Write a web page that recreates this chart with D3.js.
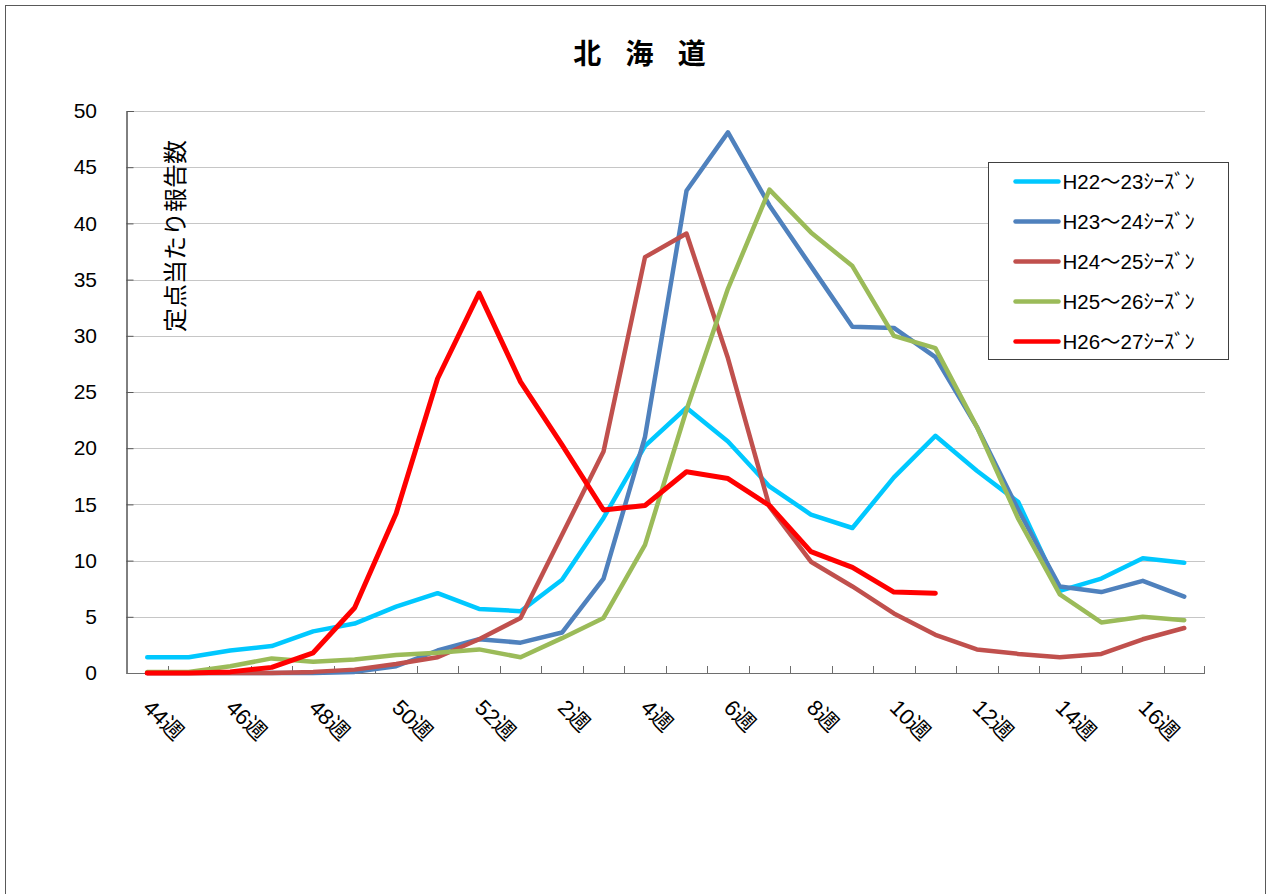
<!DOCTYPE html>
<html>
<head>
<meta charset="utf-8">
<script src="https://cdn.jsdelivr.net/npm/d3@7"></script>
<style>
  html, body { margin: 0; padding: 0; background: #fff; }
  svg { display: block; font-family: "Liberation Sans", Arial, "Noto Sans CJK JP", sans-serif; }
  .line { fill: none; stroke-linejoin: round; stroke-linecap: round; }
</style>
</head>
<body>
<svg id="chart" width="1267" height="894"></svg>
<script>
// week categories (44週 .. 52週, 1週 .. 17週)
const weeks = ["44週","45週","46週","47週","48週","49週","50週","51週","52週",
  "1週","2週","3週","4週","5週","6週","7週","8週","9週","10週",
  "11週","12週","13週","14週","15週","16週","17週"];

const seasonNames = ["H22～23ｼｰｽﾞﾝ", "H23～24ｼｰｽﾞﾝ", "H24～25ｼｰｽﾞﾝ", "H25～26ｼｰｽﾞﾝ", "H26～27ｼｰｽﾞﾝ"];

const h22 = [1.4,1.4,2.0,2.4,3.7,4.4,5.9,7.1,5.7,5.5,8.3,13.8,20.2,23.6,20.6,16.6,14.1,12.9,17.4,21.1,18.0,15.2,7.3,8.4,10.2,9.8];
const h23 = [0,0,0,0,0,0.1,0.6,2.0,3.0,2.7,3.6,8.4,21.0,42.9,48.1,41.6,36.2,30.8,30.7,28.1,21.9,14.5,7.7,7.2,8.2,6.8];
const h24 = [0,0,0,0,0.1,0.3,0.8,1.4,3.0,4.9,12.3,19.7,37.0,39.1,28.0,14.8,9.9,7.7,5.3,3.4,2.1,1.7,1.4,1.7,3.0,4.0];
const h25 = [0.1,0.1,0.6,1.3,1.0,1.2,1.6,1.8,2.1,1.4,3.1,4.9,11.4,23.4,34.2,43.0,39.2,36.2,30.0,28.9,21.9,13.7,7.0,4.5,5.0,4.7];
const h26 = [0,0,0.1,0.5,1.8,5.8,14.2,26.2,33.8,25.9,20.3,14.5,14.9,17.9,17.3,14.9,10.8,9.4,7.2,7.1];

const yTicks = [0,5,10,15,20,25,30,35,40,45,50];

const colors = ["#00C8FF", "#4F81BD", "#C0504D", "#9BBB59", "#FF0000"];

drawChart();

function drawChart() {
    const svg = d3.select("#chart");
    const plot = { left: 126.5, right: 1205, top: 111, bottom: 673 };

    // outer frame
    svg.append("rect")
        .attr("x", 5.5).attr("y", 5.5)
        .attr("width", 1260).attr("height", 900)
        .attr("fill", "#fff")
        .attr("stroke", "#595959");

    // Scales
    const x = d3.scaleBand()
        .domain(weeks)
        .range([plot.left, plot.right])
        .padding(0);
    const cx = d => x(d) + x.bandwidth() / 2;

    const y = d3.scaleLinear()
        .domain([0, 50])
        .range([plot.bottom, plot.top]);

    // grid lines
    svg.append("g")
        .selectAll("line")
        .data(yTicks.filter(d => d > 0))
        .join("line")
        .attr("x1", plot.left).attr("x2", plot.right)
        .attr("y1", d => Math.round(y(d)) + 0.5).attr("y2", d => Math.round(y(d)) + 0.5)
        .attr("stroke", "#c6c6c6")
        .attr("stroke-width", 1.2);

    // y axis
    const yAxis = svg.append("g")
        .attr("transform", `translate(${plot.left},0)`)
        .call(d3.axisLeft(y).tickValues(yTicks).tickSize(-7).tickPadding(29.5));
    yAxis.select(".domain").attr("stroke", "#000");
    yAxis.selectAll(".tick line").attr("stroke", "#595959");
    yAxis.selectAll(".tick text")
        .attr("font-size", 21)
        .attr("font-family", "'Liberation Sans', Arial, sans-serif")
        .attr("fill", "#000");

    // x axis line and tick marks between categories
    svg.append("line")
        .attr("x1", plot.left).attr("x2", plot.right)
        .attr("y1", plot.bottom + 0.5).attr("y2", plot.bottom + 0.5)
        .attr("stroke", "#6e6e6e");

    svg.append("g")
        .selectAll("line")
        .data(weeks.slice(1).concat(["end"]))
        .join("line")
        .attr("x1", d => d === "end" ? plot.right - 0.5 : Math.round(x(d)) + 0.5)
        .attr("x2", d => d === "end" ? plot.right - 0.5 : Math.round(x(d)) + 0.5)
        .attr("y1", plot.bottom).attr("y2", plot.bottom - 7)
        .attr("stroke", "#6e6e6e");

    // x labels, every other week, rotated 45deg
    svg.append("g")
        .selectAll("text")
        .data(weeks.filter((d, i) => i % 2 === 0))
        .join("text")
        .attr("transform", d => `translate(${cx(d) - 5.5},709) rotate(45)`)
        .attr("font-size", 22)
        .attr("fill", "#000")
        .text(d => d);

    // lines
    const series = [h22, h23, h24, h25, h26];
    const line = d3.line()
        .defined(d => d != null)
        .x((d, i) => cx(weeks[i]))
        .y(d => y(d));

    series.forEach((s, k) => {
        svg.append("path")
            .datum(s)
            .attr("class", "line")
            .attr("stroke", colors[k])
            .attr("stroke-width", k === 4 ? 5 : 4.5)
            .attr("d", line);
    });

    // title
    svg.append("text")
        .attr("x", 644).attr("y", 52)
        .attr("text-anchor", "middle")
        .attr("dominant-baseline", "central")
        .attr("font-family", "'Noto Sans CJK JP', sans-serif")
        .attr("font-weight", "bold")
        .attr("font-size", 28)
        .attr("letter-spacing", 9)
        .text("北 海 道");

    // y axis title
    svg.append("text")
        .attr("transform", "translate(173,236) rotate(-90)")
        .attr("text-anchor", "middle")
        .attr("dominant-baseline", "central")
        .attr("font-family", "'Noto Sans CJK JP', sans-serif")
        .attr("font-size", 24)
        .text("定点当たり報告数");

    // legend
    const legend = svg.append("g")
        .attr("transform", "translate(988.5,162.5)");

    legend.append("rect")
        .attr("width", 240).attr("height", 197)
        .attr("fill", "#fff")
        .attr("stroke", "#404040");

    seasonNames.forEach((name, k) => {
        const ly = 19 + k * 40;
        legend.append("line")
            .attr("x1", 27).attr("x2", 70)
            .attr("y1", ly).attr("y2", ly)
            .attr("stroke", colors[k])
            .attr("stroke-width", 4.5)
            .attr("stroke-linecap", "round");
        legend.append("text")
            .attr("x", 74).attr("y", ly)
            .attr("dominant-baseline", "central")
            .attr("font-size", 20.5)
            .attr("fill", "#000")
            .text(name);
    });
}
</script>
</body>
</html>
